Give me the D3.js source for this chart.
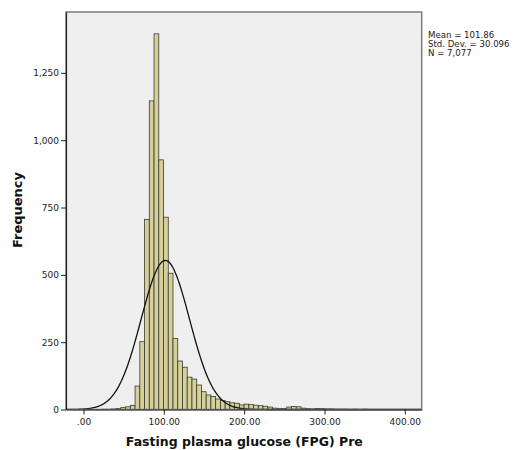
<!DOCTYPE html>
<html>
  <head>
    <title>FPG histogram</title>
    <script type="text/javascript" src="https://d3js.org/d3.v7.min.js"></script>
    <style>
      body { margin: 0; background: #fff; }
      text { font-family: "DejaVu Sans", sans-serif; fill: #222; }
      .axis-title { font-weight: bold; font-size: 13px; fill: #111; }
    </style>
  </head>

  <body>
    <svg width="521" height="450" class="hist"></svg>

    <script type="text/javascript">
      // histogram counts, one per bin (left to right)
      var binStart = 22.9;
      var binWidth = 5.9;
      var counts = [1, 1, 2, 4, 7, 10, 15, 87, 252, 706, 1146, 1395, 927, 714, 506,
                    264, 180, 157, 120, 113, 91, 66, 54, 48, 39, 33, 29, 25, 23, 17, 20,
                    18, 16, 14, 12, 9, 5, 3, 4, 9, 11, 10, 5, 3, 2, 4, 3, 2, 2,
                    1, 1, 1, 0, 1, 0, 1];
      var xTicks = [0, 100, 200, 300, 400];
      var yTicks = [0, 250, 500, 750, 1000, 1250];
      var statLines = ['Mean = 101.86', 'Std. Dev. = 30.096', 'N = 7,077'];
      var mean = 101.86, sd = 30.096, n = 7077;

      var svg = d3.select('svg.hist');
      // note: "top" is taken by window.top, so use p* names
      var pLeft = 66, pRight = 421.7, pTop = 12, pBottom = 409.5;

      var x = d3.scaleLinear().domain([-21.8, 421]).range([pLeft, pRight]);
      var y = d3.scaleLinear().domain([0, 1476]).range([pBottom, pTop]);

      // plot background
      svg.append('rect')
         .attr('x', pLeft).attr('y', pTop)
         .attr('width', pRight - pLeft).attr('height', pBottom - pTop)
         .attr('fill', '#efefef');

      var bins = counts.map(function(c, i) {
        return { x0: binStart + i * binWidth, x1: binStart + (i + 1) * binWidth, count: c };
      });

      svg.selectAll('rect.bar')
         .data(bins.filter(function(d) { return d.count > 0; }))
         .enter()
         .append('rect')
         .attr('class', 'bar')
         .attr('x', function(d) { return x(d.x0); })
         .attr('width', function(d) { return x(d.x1) - x(d.x0); })
         .attr('y', function(d) { return y(d.count); })
         .attr('height', function(d) { return pBottom - y(d.count); })
         .attr('fill', '#d5d09b')
         .attr('stroke', '#3b3a2c')
         .attr('stroke-width', 0.8);

      // normal curve from mean / sd / N
      var curvePts = d3.range(-21.8, 421, 1).map(function(v) {
        var z = (v - mean) / sd;
        return [v, n * binWidth / (sd * Math.sqrt(2 * Math.PI)) * Math.exp(-0.5 * z * z)];
      });
      svg.append('path')
         .datum(curvePts)
         .attr('fill', 'none')
         .attr('stroke', '#111')
         .attr('stroke-width', 1.3)
         .attr('d', d3.line()
                      .x(function(d) { return x(d[0]); })
                      .y(function(d) { return y(d[1]); })
                      .curve(d3.curveBasis));

      // frame
      svg.append('rect')
         .attr('x', pLeft).attr('y', pTop)
         .attr('width', pRight - pLeft).attr('height', pBottom - pTop)
         .attr('fill', 'none')
         .attr('stroke', '#7c7c7c')
         .attr('stroke-width', 1.5);

      var xAxis = svg.append('g')
         .attr('transform', 'translate(0,' + pBottom + ')')
         .call(d3.axisBottom(x).tickValues(xTicks).tickSize(5).tickSizeOuter(0)
                 .tickFormat(function(d) { return d === 0 ? '.00' : d3.format('.2f')(d); }));
      var yAxis = svg.append('g')
         .attr('transform', 'translate(' + pLeft + ',0)')
         .call(d3.axisLeft(y).tickValues(yTicks).tickSize(5).tickSizeOuter(0)
                 .tickFormat(d3.format(',')));

      [xAxis, yAxis].forEach(function(a) {
        a.select('.domain').attr('stroke', '#222').attr('stroke-width', 1.2);
        a.selectAll('.tick line').attr('stroke', '#222');
        a.selectAll('.tick text')
         .style('font-family', '"DejaVu Sans", sans-serif')
         .style('font-size', '9px')
         .attr('fill', '#2a2a2a');
      });
      xAxis.selectAll('.tick text').attr('y', 9);
      yAxis.selectAll('.tick text').attr('x', -7);

      svg.append('text')
         .attr('class', 'axis-title')
         .attr('x', (pLeft + pRight) / 2 + 0.5)
         .attr('y', 446)
         .attr('text-anchor', 'middle')
         .style('font-size', '12.5px')
         .text('Fasting plasma glucose (FPG) Pre');

      svg.append('text')
         .attr('class', 'axis-title')
         .attr('transform', 'translate(22,210) rotate(-90)')
         .attr('text-anchor', 'middle')
         .text('Frequency');

      svg.selectAll('text.stat')
         .data(statLines)
         .enter()
         .append('text')
         .attr('class', 'stat')
         .attr('x', 428)
         .attr('y', function(d, i) { return 37.5 + i * 9; })
         .style('font-size', '8.6px')
         .text(function(d) { return d; });
    </script>
  </body>
</html>
